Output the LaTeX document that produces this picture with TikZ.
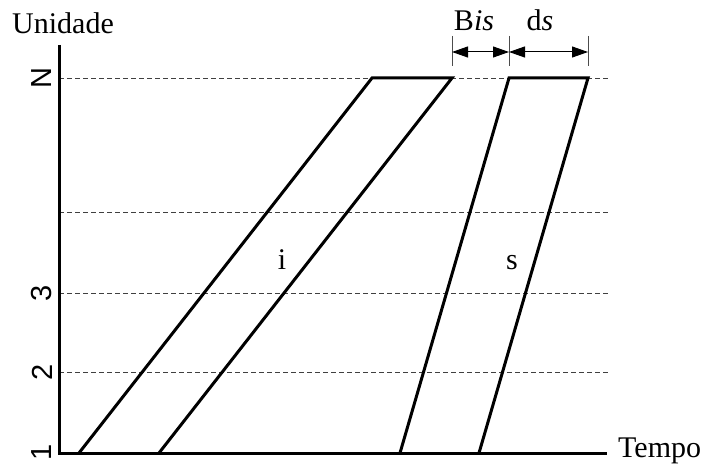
\documentclass[tikz,border=0pt]{standalone}
\usepackage{fontspec}
\setmainfont{Liberation Serif}
\newfontfamily\labfont{Liberation Sans}
\usetikzlibrary{arrows.meta}
\begin{document}
\begin{tikzpicture}[x=1pt,y=-1pt,
  thick line/.style={line width=3pt,line cap=butt,line join=miter},
  gridline/.style={line width=0.8pt,dash pattern=on 5pt off 3pt,black!75},
  ticklbl/.style={font=\labfont\fontsize{29}{29}\selectfont,rotate=90,inner sep=0pt},
  txt/.style={font=\fontsize{30}{30}\selectfont,inner sep=0pt},
  dim/.style={line width=1pt,{Triangle[length=16pt,width=11pt]}-{Triangle[length=16pt,width=11pt]}},
  dimtick/.style={line width=0.8pt,black!70}]
\useasboundingbox (0,0) rectangle (709,465);
% coordinates
\coordinate (O) at (59,453);
\coordinate (ytop) at (59,45);
\coordinate (xend) at (607,453);
% dashed grid
\foreach \yy/\nm in {78/N,212/M,293/T,372/D}{
  \coordinate (gl\nm) at (59,\yy);
  \coordinate (gr\nm) at (608,\yy);
  \draw[gridline] (gl\nm) -- (gr\nm);
}
% axes
\draw[thick line] (ytop) -- (O) -- (xend);
% axis labels
\node[txt,anchor=base west] (uni) at (12,34) {Unidade};
\node[txt,anchor=base west] (tempo) at (618,457) {Tempo};
\node[ticklbl] (lN) at (42,78) {N};
\node[ticklbl] (l3) at (42,293) {3};
\node[ticklbl] (l2) at (42,372) {2};
\node[ticklbl] (l1) at (42,452) {1};
% parallelogram i
\coordinate (ia) at (79,453);
\coordinate (ib) at (159,453);
\coordinate (ic) at (372,78);
\coordinate (id) at (452,78);
\draw[thick line] (ia) -- (ic) -- (id) -- (ib);
% parallelogram s
\coordinate (sa) at (400,453);
\coordinate (sb) at (479,453);
\coordinate (sc) at (509,78);
\coordinate (sd) at (588,78);
\draw[thick line] (sa) -- (sc) -- (sd) -- (sb);
% labels inside
\node[txt] (li) at (282,260) {i};
\node[txt] (ls) at (512,263) {s};
% dimension lines
\coordinate (t1a) at (452,36); \coordinate (t1b) at (452,66);
\coordinate (t2a) at (509,36); \coordinate (t2b) at (509,66);
\coordinate (t3a) at (588,36); \coordinate (t3b) at (588,66);
\draw[dimtick] (t1a) -- (t1b);
\draw[dimtick] (t2a) -- (t2b);
\draw[dimtick] (t3a) -- (t3b);
\coordinate (d1) at (452,52); \coordinate (d2) at (509,52); \coordinate (d3) at (588,52);
\draw[dim] (d1) -- (d2);
\draw[dim] (d2) -- (d3);
\node[txt,anchor=base] (bis) at (474,31) {B\textit{is}};
\node[txt,anchor=base] (ds) at (540,31) {d\textit{s}};
\end{tikzpicture}
\end{document}
